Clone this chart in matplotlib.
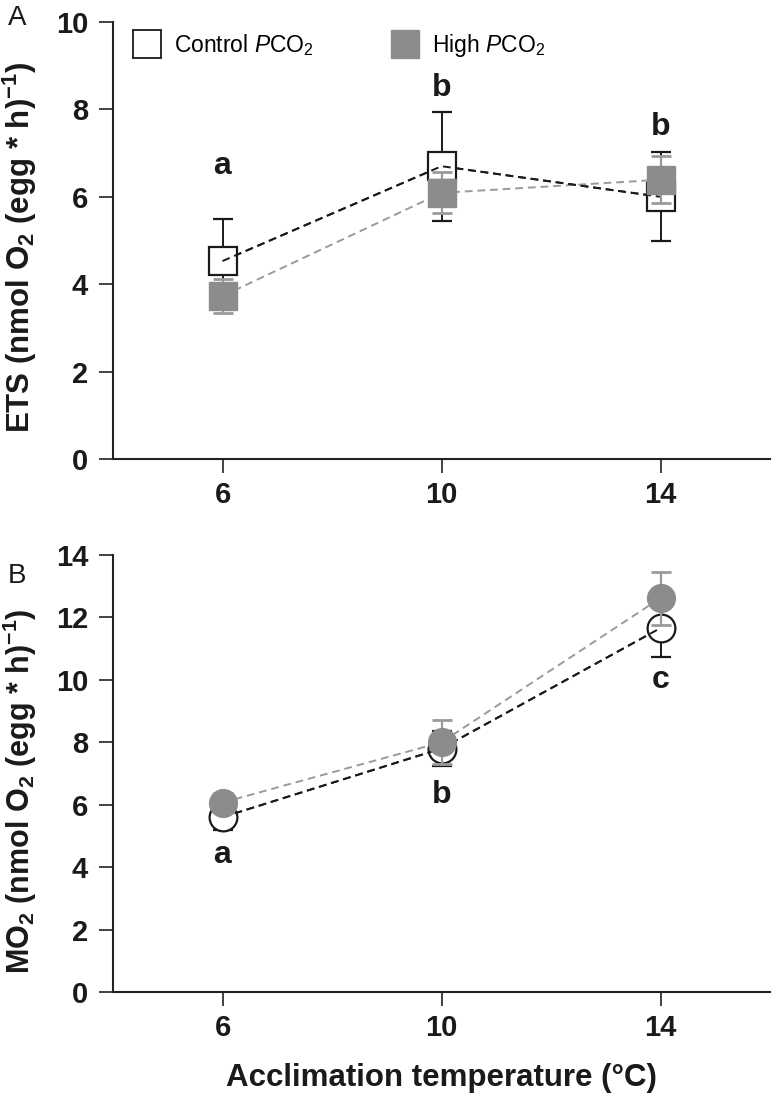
import matplotlib
matplotlib.use("Agg")
import matplotlib.pyplot as plt
from matplotlib.lines import Line2D

plt.rcParams['font.family'] = ['Liberation Sans', 'DejaVu Sans']
plt.rcParams['mathtext.fontset'] = 'custom'
plt.rcParams['mathtext.rm'] = 'Liberation Sans'
plt.rcParams['mathtext.it'] = 'Liberation Sans:italic'
plt.rcParams['mathtext.bf'] = 'Liberation Sans:bold'

temps = [6, 10, 14]

# Panel A: ETS
ets_ctrl = [4.53, 6.70, 6.00]
ets_ctrl_err = [0.97, 1.25, 1.02]
ets_high = [3.73, 6.09, 6.39]
ets_high_err = [0.40, 0.47, 0.54]
ets_letters = ['a', 'b', 'b']
ets_letter_y = [6.7, 8.5, 7.6]

# Panel B: MO2
mo2_ctrl = [5.60, 7.80, 11.66]
mo2_ctrl_err = [0.42, 0.55, 0.93]
mo2_high = [6.07, 8.00, 12.62]
mo2_high_err = [0.30, 0.70, 0.85]
mo2_letters = ['a', 'b', 'c']
mo2_letter_y = [4.4, 6.3, 10.0]

xticks = [6, 10, 14]

W, H = 772, 1098
fig = plt.figure(figsize=(W / 100, H / 100), dpi=100)

left = 113 / W
width = 657 / W
axA = fig.add_axes([left, 1 - 459 / H, width, 437 / H])
axB = fig.add_axes([left, 1 - 992 / H, width, 437 / H])

BLACK = '#1a1a1a'
GRAY = '#8c8c8c'
GRAYLINE = '#9a9a9a'
ms = 20

def draw(ax, ctrl, cerr, high, herr, marker):
    ax.plot(temps, ctrl, linestyle=(0, (4, 2.5)), color=BLACK, lw=1.4, zorder=2)
    ax.plot(temps, high, linestyle=(0, (4, 2.5)), color=GRAYLINE, lw=1.4, zorder=2)
    ax.errorbar(temps, ctrl, yerr=cerr, fmt='none', ecolor=BLACK, elinewidth=1.4,
                capsize=7, capthick=1.6, zorder=3)
    ax.plot(temps, ctrl, linestyle='none', marker=marker, markersize=ms,
            markerfacecolor='white', markeredgecolor=BLACK, markeredgewidth=1.6, zorder=4)
    ax.plot(temps, ctrl, linestyle=(0, (4, 2.5)), color=BLACK, lw=1.4, zorder=4.5)
    ax.errorbar(temps, high, yerr=herr, fmt='none', ecolor=GRAYLINE, elinewidth=1.6,
                capsize=7, capthick=2.0, zorder=5)
    ax.plot(temps, high, linestyle='none', marker=marker, markersize=ms,
            markerfacecolor=GRAY, markeredgecolor=GRAY, markeredgewidth=1.0, zorder=6)

draw(axA, ets_ctrl, ets_ctrl_err, ets_high, ets_high_err, 's')
draw(axB, mo2_ctrl, mo2_ctrl_err, mo2_high, mo2_high_err, 'o')

for ax in (axA, axB):
    ax.set_xlim(4, 16)
    ax.set_xticks(xticks)
    ax.set_xticklabels([str(t) for t in xticks])
    for s in ('top', 'right'):
        ax.spines[s].set_visible(False)
    for s in ('left', 'bottom'):
        ax.spines[s].set_linewidth(1.5)
        ax.spines[s].set_color('#222222')
    ax.tick_params(axis='both', direction='out', length=10, width=1.2, color='#222222',
                   labelsize=21, pad=6)
    ax.tick_params(axis='y', pad=8)

axA.set_ylim(0, 10)
axA.set_yticks([0, 2, 4, 6, 8, 10])
axB.set_ylim(0, 14)
axB.set_yticks([0, 2, 4, 6, 8, 10, 12, 14])
for ax in (axA, axB):
    for lab in ax.get_xticklabels() + ax.get_yticklabels():
        lab.set_fontweight('bold')
        lab.set_color(BLACK)

for t, y, l in zip(temps, ets_letter_y, ets_letters):
    axA.text(t, y, l, ha='center', va='center', fontsize=23, fontweight='bold', color=BLACK)
for t, y, l in zip(temps, mo2_letter_y, mo2_letters):
    axB.text(t, y, l, ha='center', va='center', fontsize=23, fontweight='bold', color=BLACK)

axA.set_ylabel(r'ETS (nmol O$_\mathbf{2}$ (egg * h)$^{\mathbf{-1}}$)', fontsize=22.5,
               fontweight='bold', color=BLACK)
axB.set_ylabel(r'MO$_\mathbf{2}$ (nmol O$_\mathbf{2}$ (egg * h)$^{\mathbf{-1}}$)', fontsize=22,
               fontweight='bold', color=BLACK)
axA.yaxis.set_label_coords(-0.112, 0.485)
axB.yaxis.set_label_coords(-0.112, 0.46)
axB.set_xlabel('Acclimation temperature (°C)', fontsize=22.5, fontweight='bold', labelpad=15,
               color=BLACK)

fig.text(17 / W, 1 - 18 / H, 'A', fontsize=20, ha='center', va='center', color=BLACK)
fig.text(17 / W, 1 - 576 / H, 'B', fontsize=20, ha='center', va='center', color=BLACK)

h_ctrl = Line2D([], [], linestyle='none', marker='s', markersize=20, markerfacecolor='white',
                markeredgecolor=BLACK, markeredgewidth=1.3)
h_high = Line2D([], [], linestyle='none', marker='s', markersize=20, markerfacecolor=GRAY,
                markeredgecolor=GRAY)
axA.legend([h_ctrl, h_high], [r'Control $\mathit{P}$CO$_2$', r'High $\mathit{P}$CO$_2$'],
           loc='upper left', bbox_to_anchor=(0.0, 1.025), ncol=2, frameon=False,
           fontsize=16.5, columnspacing=3.4, handletextpad=0.55, handlelength=1.2)

fig.savefig('out.png', dpi=100)
